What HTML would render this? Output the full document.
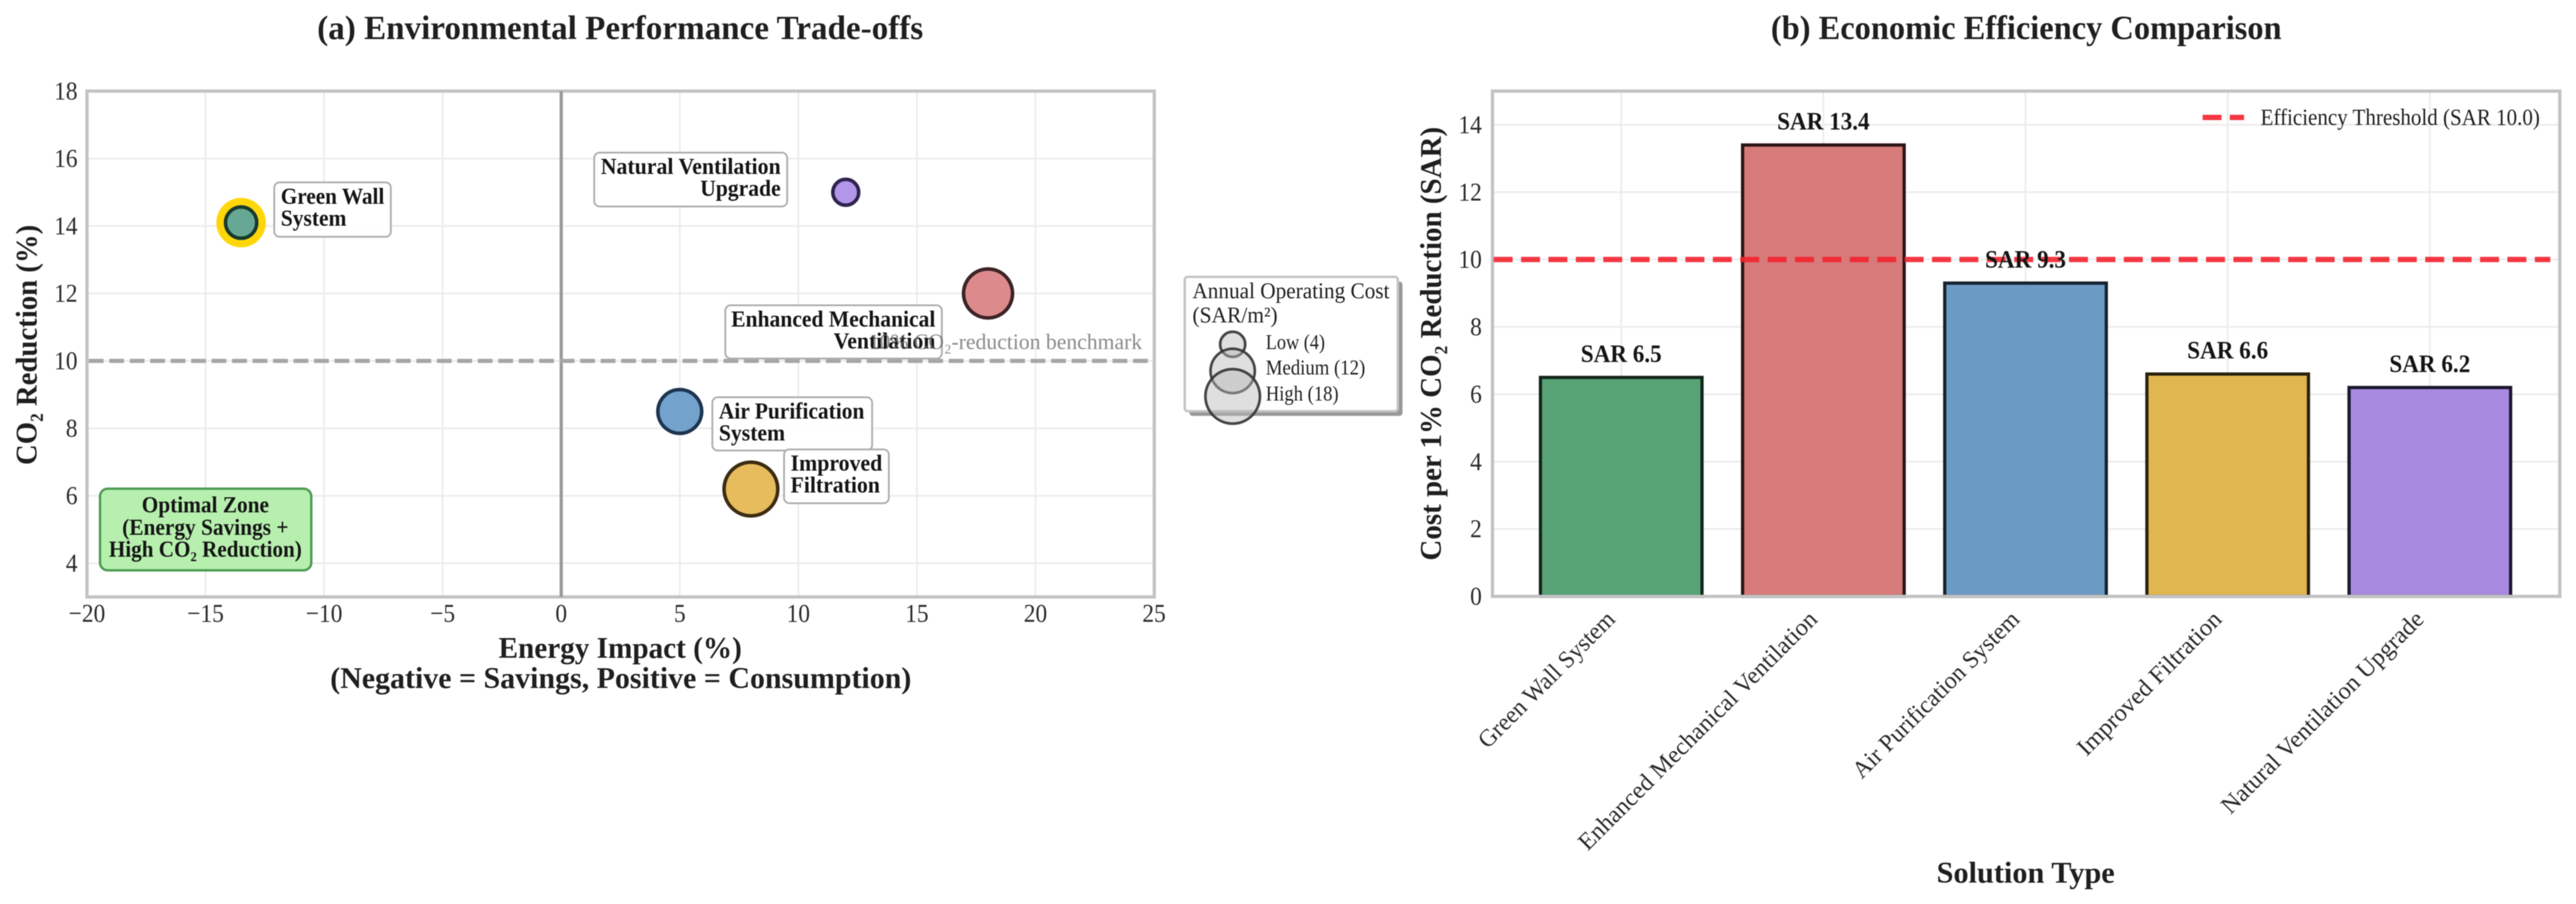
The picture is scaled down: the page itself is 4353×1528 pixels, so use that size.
<!DOCTYPE html>
<html lang="en">
<head>
<meta charset="utf-8">
<title>Environmental Performance Trade-offs and Economic Efficiency</title>
<style>
html,body{margin:0;padding:0;background:#fff;width:4353px;height:1528px;overflow:hidden}
svg{display:block;filter:blur(.8px)}
text{font-family:"Liberation Serif","DejaVu Serif",serif;fill:#1f1f1f}
.b{font-weight:700}
.title{font-size:57px;font-weight:700}
.axis{font-size:51px;font-weight:700}
.tick{font-size:43px;fill:#2a2a2a}
.cat{font-size:41px;fill:#2a2a2a}
.lbl{font-size:39px;font-weight:700;fill:#151515}
.val{font-size:42px;font-weight:700;fill:#151515}
</style>
</head>
<body>
<svg id="chart" xmlns="http://www.w3.org/2000/svg" width="4353" height="1528" viewBox="0 0 4353 1528">
  <rect width="4353" height="1528" fill="#ffffff"/>
  <g id="panelA">
    <g id="gridA"></g>
    <g id="marksA"></g>
  </g>
  <g id="panelB">
    <g id="gridB"></g>
    <g id="marksB"></g>
  </g>
  <text class="title" x="1048" y="66" text-anchor="middle" textLength="1024" lengthAdjust="spacingAndGlyphs">(a) Environmental Performance Trade-offs</text>
  <text class="title" x="3424" y="66" text-anchor="middle" textLength="863" lengthAdjust="spacingAndGlyphs">(b) Economic Efficiency Comparison</text>
  <text class="axis" x="1048" y="1112" text-anchor="middle" textLength="411" lengthAdjust="spacingAndGlyphs">Energy Impact (%)</text>
  <text class="axis" x="1049" y="1163" text-anchor="middle" textLength="982" lengthAdjust="spacingAndGlyphs">(Negative = Savings, Positive = Consumption)</text>
  <text class="axis" transform="translate(62,583) rotate(-90)" text-anchor="middle" textLength="406" lengthAdjust="spacingAndGlyphs">CO₂ Reduction (%)</text>
  <text class="axis" transform="translate(2435,581) rotate(-90)" text-anchor="middle" textLength="733" lengthAdjust="spacingAndGlyphs">Cost per 1% CO₂ Reduction (SAR)</text>
  <text class="axis" x="3423" y="1492" text-anchor="middle" textLength="301" lengthAdjust="spacingAndGlyphs">Solution Type</text>

  <g>
    <rect x="169" y="826" width="357" height="138" rx="13" fill="#b7f0ae" stroke="#4e9a55" stroke-width="4"/>
    <text class="lbl" x="347" y="866" text-anchor="middle" textLength="215" lengthAdjust="spacingAndGlyphs">Optimal Zone</text>
    <text class="lbl" x="347" y="904" text-anchor="middle" textLength="281" lengthAdjust="spacingAndGlyphs">(Energy Savings +</text>
    <text class="lbl" x="347" y="941" text-anchor="middle" textLength="326" lengthAdjust="spacingAndGlyphs">High CO₂ Reduction)</text>
  </g>

  <text x="1930" y="590" text-anchor="end" font-size="37" style="fill:#777;opacity:.85" textLength="462" lengthAdjust="spacingAndGlyphs">10% CO₂-reduction benchmark</text>

  <g>
    <rect x="2010" y="476" width="360" height="227" rx="5" fill="#999999"/>
    <rect x="2002" y="468" width="360" height="227" rx="5" fill="#ffffff" stroke="#c4c4c4" stroke-width="4"/>
    <text x="2015" y="504" font-size="38" textLength="333" lengthAdjust="spacingAndGlyphs">Annual Operating Cost</text>
    <text x="2015" y="545" font-size="38" textLength="144" lengthAdjust="spacingAndGlyphs">(SAR/m²)</text>
    <g id="legendEntries"></g>
  </g>

  <line x1="3722" y1="198.5" x2="3792" y2="198.5" stroke="#f4222f" stroke-opacity=".9" stroke-width="9" stroke-dasharray="32 14"/>
  <text x="3820" y="211" font-size="39" fill="#2a2a2a" textLength="472" lengthAdjust="spacingAndGlyphs">Efficiency Threshold (SAR 10.0)</text>
</svg>

<script>
// ---- scatter data ----
const solutions = ['Green Wall System','Enhanced Mechanical Ventilation','Air Purification System','Improved Filtration','Natural Ventilation Upgrade'];
const energyImpact = [-13.5, 18, 5, 8, 12];
const co2Reduction = [14.1, 12, 8.5, 6.2, 15];
const annualCost = [7, 16, 13, 19, 5];
const scatterXTicks = [-20,-15,-10,-5,0,5,10,15,20,25];
const scatterYTicks = [4,6,8,10,12,14,16,18];
const benchmarkCO2 = [10];
const zeroEnergy = [0];
const legendCosts = [4,12,18];
const legendNames = ['Low (4)','Medium (12)','High (18)'];

// ---- bar data ----
const costPerCO2 = [6.5, 13.4, 9.3, 6.6, 6.2];
const barYTicks = [0,2,4,6,8,10,12,14];
const thresholdValue = [10];

// ---- styles and label layout (not data) ----
const pointColors = ['#67a894','#dd8a8c','#73a2cd','#e6bc5c','#b196ea'];
const pointStrokes = ['#173a2c','#3c2326','#1d3550','#3c2c12','#2f2450'];
const barColors = ['#58a376','#d67a7a','#6b9ac4','#e0b64f','#a78ae0'];
const barStrokes = ['#14261c','#2c1414','#16222e','#2a2210','#1c1630'];
const labelLines = [['Green Wall','System'],['Enhanced Mechanical','Ventilation'],['Air Purification','System'],['Improved','Filtration'],['Natural Ventilation','Upgrade']];
const labelLineWidths = [[175,111],[345,172],[246,112],[155,151],[304,136]];
const labelBoxDx = [56,-444,55,56,-425];
const labelBoxDy = [-68,20,-24,-67,-67];
const labelBoxW = [197,366,270,177,326];
const labelBoxH = [92,90,90,91,91];
const labelAlignRight = [false,true,false,false,true];
const catLengths = [308,552,380,326,465];

// ---- axes ----
const A = {l:147, r:1950.5, t:154, b:1009, xmin:-20, xmax:25.01, ymin:3, ymax:18};
const B = {l:2522, r:4325.6, t:154, b:1008, ymin:0, ymax:15};
const ax = v => A.l + (v - A.xmin) * (A.r - A.l) / (A.xmax - A.xmin);
const ay = v => A.b - (v - A.ymin) * (A.b - A.t) / (A.ymax - A.ymin);
const BAR_START = 2739.6, BAR_STEP = 341.6, BAR_W = 273;
const bx = i => BAR_START + i * BAR_STEP;
const by = v => B.b - (v - B.ymin) * (B.b - B.t) / (B.ymax - B.ymin);
const sizeR = c => 11.1 * Math.sqrt(c);

const NS = 'http://www.w3.org/2000/svg';
function mk(tag, attrs, parent, txt){
  const e = document.createElementNS(NS, tag);
  for (const k in attrs) e.setAttribute(k, attrs[k]);
  if (txt !== undefined) e.textContent = txt;
  parent.appendChild(e);
  return e;
}
function narrow(e, f){
  e.setAttribute('textLength', e.getComputedTextLength() * f);
  e.setAttribute('lengthAdjust', 'spacingAndGlyphs');
}
const gridA = document.getElementById('gridA');
const marksA = document.getElementById('marksA');
const gridB = document.getElementById('gridB');
const marksB = document.getElementById('marksB');
const legendEntries = document.getElementById('legendEntries');
const fmt = v => (v < 0 ? '\u2212' + (-v) : '' + v);
let el;

// ---- panel A grid and ticks ----
scatterXTicks.forEach(v => {
  if (v > A.xmin && v < A.xmax) {
    el = mk('line', {x1:ax(v), x2:ax(v), y1:A.t, y2:A.b, stroke:'#ececec', 'stroke-width':3}, gridA);
    
    
  }
  el = mk('text', {x:ax(v), y:1051, 'text-anchor':'middle', class:'tick'}, gridA, fmt(v));
  narrow(el, .92);
  
  
});
scatterYTicks.forEach(v => {
  el = mk('line', {x1:A.l, x2:A.r, y1:ay(v), y2:ay(v), stroke:'#ececec', 'stroke-width':3}, gridA);
  
  
  el = mk('text', {x:131, y:ay(v)+14, 'text-anchor':'end', class:'tick'}, gridA, fmt(v));
  narrow(el, .92);
  
  
});
el = mk('rect', {x:A.l, y:A.t, width:A.r-A.l, height:A.b-A.t, fill:'none', stroke:'#c2c2c2', 'stroke-width':5.5}, gridA);


el = mk('line', {x1:ax(zeroEnergy[0]), x2:ax(zeroEnergy[0]), y1:A.t, y2:A.b, stroke:'#9a9a9a', 'stroke-width':5.5}, gridA);


el = mk('line', {x1:A.l+3, x2:1941, y1:ay(benchmarkCO2[0]), y2:ay(benchmarkCO2[0]), stroke:'#a6a6a6', 'stroke-width':7, 'stroke-dasharray':'25 9.6'}, gridA);



// ---- panel A points and labels ----
const bestIndex = energyImpact.indexOf(Math.min(...energyImpact));
solutions.forEach((name, i) => {
  const cx = ax(energyImpact[i]), cy = ay(co2Reduction[i]), r = sizeR(annualCost[i]);
  if (i === bestIndex) {
    el = mk('circle', {cx:cx, cy:cy, r:r+12.5, fill:'#ffd60a'}, marksA);
    
    
  }
  el = mk('circle', {cx:cx, cy:cy, r:r-3, fill:pointColors[i], stroke:pointStrokes[i], 'stroke-width':6}, marksA);
  
  
});
solutions.forEach((name, i) => {
  const cx = ax(energyImpact[i]), cy = ay(co2Reduction[i]);
  const bxX = cx + labelBoxDx[i], bxY = cy + labelBoxDy[i];
  el = mk('rect', {x:bxX, y:bxY, width:labelBoxW[i], height:labelBoxH[i], rx:9, fill:'#ffffff', 'fill-opacity':.95, stroke:'#adadad', 'stroke-width':3}, marksA);
  
  
  labelLines[i].forEach((line, j) => {
    const tx = labelAlignRight[i] ? bxX + labelBoxW[i] - 11 : bxX + 11;
    el = mk('text', {x:tx, y:bxY + 36 + j*37, class:'lbl', 'text-anchor':labelAlignRight[i] ? 'end' : 'start', textLength:labelLineWidths[i][j], lengthAdjust:'spacingAndGlyphs'}, marksA, line);
    
    
  });
});

// ---- size legend ----
const legendCy = [582, 627, 670];
const legendBase = [590, 633, 677];
const legendW = [100, 168, 123];
legendCosts.forEach((c, i) => {
  el = mk('circle', {cx:2083, cy:legendCy[i], r:sizeR(c)-1, fill:'#b8b8b8', 'fill-opacity':.45, stroke:'#333333', 'stroke-opacity':.9, 'stroke-width':4.5}, legendEntries);
  
  
});
legendNames.forEach((n, i) => {
  el = mk('text', {x:2139, y:legendBase[i], 'font-size':36, textLength:legendW[i], lengthAdjust:'spacingAndGlyphs'}, legendEntries, n);
  
  
});

// ---- panel B grid and ticks ----
solutions.forEach((n, i) => {
  el = mk('line', {x1:bx(i), x2:bx(i), y1:B.t, y2:B.b, stroke:'#ececec', 'stroke-width':3}, gridB);
  
  
});
barYTicks.forEach(v => {
  if (v > B.ymin) {
    el = mk('line', {x1:B.l, x2:B.r, y1:by(v), y2:by(v), stroke:'#ececec', 'stroke-width':3}, gridB);
    
    
  }
  el = mk('text', {x:2504, y:by(v)+14, 'text-anchor':'end', class:'tick'}, gridB, fmt(v));
  narrow(el, .92);
  
  
});

// ---- bars ----
solutions.forEach((name, i) => {
  const top = by(costPerCO2[i]);
  el = mk('rect', {x:bx(i)-BAR_W/2, y:top, width:BAR_W, height:by(0)-top, fill:barColors[i], stroke:barStrokes[i], 'stroke-width':5.5}, marksB);
  
  
});
// ---- frame drawn over the bars so the baseline stays grey ----
el = mk('rect', {x:B.l, y:B.t, width:B.r-B.l, height:B.b-B.t, fill:'none', stroke:'#c2c2c2', 'stroke-width':5.5}, marksB);


// ---- threshold line ----
el = mk('line', {x1:B.l+2, x2:B.r-16, y1:by(thresholdValue[0]), y2:by(thresholdValue[0]), stroke:'#f4222f', 'stroke-opacity':.9, 'stroke-width':9, 'stroke-dasharray':'32 14.3'}, marksB);


// ---- value labels and category labels ----
solutions.forEach((name, i) => {
  el = mk('text', {x:bx(i), y:by(costPerCO2[i])-26, 'text-anchor':'middle', class:'val'}, marksB, 'SAR ' + costPerCO2[i].toFixed(1));
  narrow(el, .93);
  
  
  el = mk('text', {transform:'translate(' + (bx(i)-8) + ',1049) rotate(-45)', 'text-anchor':'end', class:'cat', textLength:catLengths[i], lengthAdjust:'spacingAndGlyphs'}, marksB, name);
  
  
});
</script>
</body>
</html>
